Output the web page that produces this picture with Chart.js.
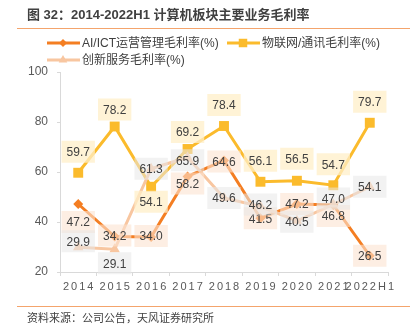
<!DOCTYPE html>
<html>
<head>
<meta charset="utf-8">
<script src="https://cdn.jsdelivr.net/npm/chart.js@4/dist/chart.umd.min.js"></script>
<style>
  html, body { margin: 0; background: #fff; }
  #wrap { width: 415px; height: 326px; }
</style>
</head>
<body>
<div id="wrap"><canvas id="margins" width="415" height="326"></canvas></div>
<script>
const categories = ['2014', '2015', '2016', '2017', '2018', '2019', '2020', '2021', '2022H1'];
const aiIctMargin = [47.2, 34.2, 34.0, 58.2, 64.6, 41.5, 47.2, 46.8, 26.5];
const iotMargin = [59.7, 78.2, 54.1, 69.2, 78.4, 56.1, 56.5, 54.7, 79.7];
const innovationMargin = [29.9, 29.1, 61.3, 65.9, 49.6, 46.2, 40.5, 47.0, 54.1];
const yTicks = [20, 40, 60, 80, 100];

const FONT = "'Liberation Sans', 'Noto Sans CJK SC', sans-serif";
const TEXT = '#404040';

// vertical nudge of each value tag from its point, px
const tagNudge = [
  [18, -1, -1, 7, 1, 0, 0, 11, 0],
  [-21, -17, 15, -17, -21, -21, -22, -21, -21],
  [-6, 14, 0, 3, 0, -2, 1, -6, 0],
];
const tagFill = ['rgba(251,226,208,0.6)', 'rgba(255,239,200,0.75)', 'rgba(232,232,232,0.55)'];

const datasets = [
  {
    label: 'AI/ICT运营管理毛利率(%)',
    data: aiIctMargin,
    borderColor: '#F47E22',
    backgroundColor: '#F47E22',
    pointStyle: 'rectRot',
    pointRadius: 5,
    order: 3,
  },
  {
    label: '物联网/通讯毛利率(%)',
    data: iotMargin,
    borderColor: '#FBBB2C',
    backgroundColor: '#FBBB2C',
    pointStyle: 'rect',
    pointRadius: 7,
    order: 2,
  },
  {
    label: '创新服务毛利率(%)',
    data: innovationMargin,
    borderColor: '#F8C6A0',
    backgroundColor: '#F8C6A0',
    pointStyle: 'triangle',
    pointRadius: 6,
    order: 1,
  },
];
datasets.forEach(d => { d.borderWidth = 3; d.pointBorderWidth = 0; d.tension = 0; });

// value tags: translucent box + number above/below each point
const valueTags = {
  id: 'valueTags',
  afterDatasetsDraw(chart) {
    const ctx = chart.ctx;
    ctx.save();
    ctx.font = '12px ' + FONT;
    ctx.textAlign = 'center';
    ctx.textBaseline = 'middle';
    chart.data.datasets.forEach((ds, di) => {
      chart.getDatasetMeta(di).data.forEach((pt, i) => {
        const txt = ds.data[i].toFixed(1);
        const w = ctx.measureText(txt).width + 10;
        const h = 22;
        const x = pt.x;
        const y = pt.y + tagNudge[di][i];
        ctx.fillStyle = tagFill[di];
        ctx.fillRect(x - w / 2, y - h / 2, w, h);
        ctx.fillStyle = TEXT;
        ctx.fillText(txt, x, y + 1);
      });
    });
    ctx.restore();
  }
};

// heading, legend, x labels and source note
const frame = {
  id: 'frame',
  afterDraw(chart) {
    const ctx = chart.ctx;
    ctx.save();
    ctx.fillStyle = TEXT;
    ctx.textBaseline = 'middle';
    ctx.font = 'bold 13px ' + FONT;
    ctx.fillText('图 32：2014-2022H1 计算机板块主要业务毛利率', 27, 15);

    ctx.strokeStyle = '#F4A46C';
    ctx.lineWidth = 1;
    ctx.beginPath();
    ctx.moveTo(17, 28.5); ctx.lineTo(410, 28.5);
    ctx.moveTo(17, 306.5); ctx.lineTo(410, 306.5);
    ctx.stroke();

    const legendPos = [[47, 43], [227, 43], [47, 60]];
    chart.data.datasets.forEach((ds, i) => {
      const [lx, ly] = legendPos[i];
      ctx.strokeStyle = ds.borderColor;
      ctx.fillStyle = ds.backgroundColor;
      ctx.lineWidth = 3;
      ctx.beginPath();
      ctx.moveTo(lx, ly); ctx.lineTo(lx + 33, ly);
      ctx.stroke();
      Chart.helpers.drawPoint(ctx, {
        pointStyle: ds.pointStyle, radius: ds.pointRadius - 1, rotation: 0, borderWidth: 0
      }, lx + 16, ly);
      ctx.fillStyle = TEXT;
      ctx.font = '12px ' + FONT;
      ctx.fillText(ds.label, lx + 35, ly + 1);
    });

    const xs = chart.scales.x;
    ctx.font = '11px ' + FONT;
    ctx.fillStyle = '#595959';
    ctx.textAlign = 'center';
    ctx.letterSpacing = '2px';
    categories.forEach((c, i) => {
      ctx.fillText(c, xs.getPixelForValue(i) + 1, 287);
    });
    ctx.letterSpacing = '0px';

    ctx.textAlign = 'left';
    ctx.font = '11px ' + FONT;
    ctx.fillStyle = TEXT;
    ctx.fillText('资料来源：公司公告，天风证券研究所', 27, 319);
    ctx.restore();
  }
};

new Chart(document.getElementById('margins'), {
  type: 'line',
  data: { labels: categories, datasets: datasets },
  options: {
    responsive: false,
    animation: false,
    layout: { padding: { top: 72, right: 27, left: 0, bottom: 0 } },
    plugins: { legend: { display: false }, tooltip: { enabled: false } },
    scales: {
      x: {
        offset: true,
        grid: { offset: true, drawOnChartArea: false, tickLength: 4, color: '#D9D9D9' },
        border: { color: '#D9D9D9' },
        ticks: { display: false },
        afterFit(s) { s.height = 54; },
      },
      y: {
        min: yTicks[0],
        max: yTicks[yTicks.length - 1],
        afterBuildTicks(s) { s.ticks = yTicks.map(v => ({ value: v })); },
        ticks: { color: '#595959', font: { size: 12, family: FONT }, padding: 9 },
        grid: { drawOnChartArea: false, tickLength: 3, color: '#D9D9D9' },
        border: { color: '#D9D9D9' },
        afterFit(s) { s.width = 60; },
      },
    },
  },
  plugins: [valueTags, frame],
});
</script>
</body>
</html>
